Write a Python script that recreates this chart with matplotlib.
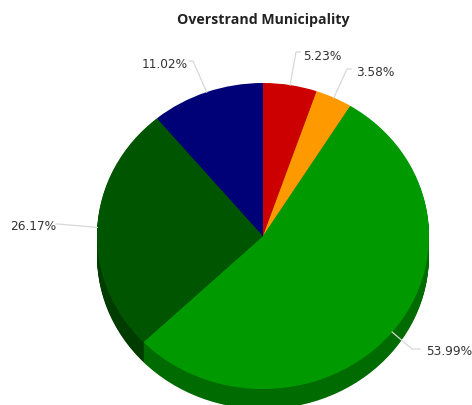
import matplotlib
matplotlib.use('Agg')
import numpy as np
import matplotlib.pyplot as plt

# Shares of each slice, clockwise from 12 o'clock
values = [5.23, 3.58, 53.99, 26.17, 11.02]
colors = ['#cc0000', '#ff9900', '#009900', '#005500', '#000077']
side_colors = ['#8f0000', '#b36b00', '#006b00', '#003b00', '#000053']

W, H = 472, 406
cx, cy = 263, 237   # pie centre in pixels
rx, ry = 166, 153   # flattened pie
depth = 20

fig = plt.figure(figsize=(W / 100, H / 100), dpi=100)
ax = fig.add_axes([0, 0, 1, 1])


def draw_pie(colour_list, y_px):
    ax.pie(values, colors=colour_list, startangle=90, counterclock=False, radius=1,
           center=(cx / rx, (H - y_px) / ry), wedgeprops={'linewidth': 0.4, 'edgecolor': 'none'},
           normalize=True)


# sides of the disc, then the top face
for off in range(depth, 0, -1):
    draw_pie(side_colors, cy + off)
draw_pie(colors, cy)

ax.set_aspect('auto')
ax.set_xlim(0, W / rx)
ax.set_ylim(0, H / ry)
ax.axis('off')

# label anchors: elbow of the connector, and text position (pixels)
elbows = [(296, 53), (347, 70), (412, 350), (58, 225), (193, 62)]
ends = [(300, 53), (351, 70), (420, 350), (56, 225), (189, 62)]
text_pos = [(303, 57), (356, 73), (426, 352), (56, 227), (188, 65)]
aligns = ['left', 'left', 'left', 'right', 'right']

a_end = np.cumsum(values) / np.sum(values)
a_mid = (a_end - np.array(values) / np.sum(values) / 2) * 2 * np.pi


def to_ax(x, y):
    return x / rx, (H - y) / ry


for i, v in enumerate(values):
    sx = cx + rx * np.sin(a_mid[i])
    sy = cy - ry * np.cos(a_mid[i])
    if i == 2:
        sy += depth * 0.0
    pts = [to_ax(sx, sy), to_ax(*elbows[i]), to_ax(*ends[i])]
    ax.plot([p[0] for p in pts], [p[1] for p in pts], color='#d8d8d8', lw=0.9, zorder=5)
    tx, ty = to_ax(*text_pos[i])
    ax.text(tx, ty, f'{v:.2f}%', ha=aligns[i], va='center', fontsize=8.7,
            color='#333333', family='DejaVu Sans')

tx, ty = to_ax(263, 20)
ax.text(tx, ty, 'Overstrand Municipality', ha='center', va='center', fontsize=10.2,
        fontweight='bold', color='#222222', family='Open Sans', fontstretch='condensed')

fig.savefig('out.png', dpi=100, facecolor='white')
